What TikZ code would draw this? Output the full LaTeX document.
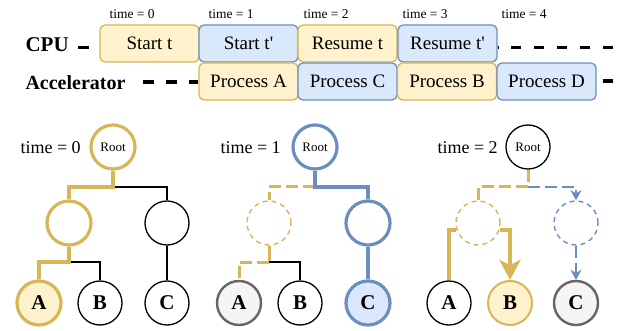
\documentclass[tikz,border=0pt]{standalone}
\usepackage{fontspec}
\setmainfont{Liberation Serif}
\usetikzlibrary{arrows.meta}
\definecolor{yFill}{HTML}{FFF2CC}
\definecolor{yLine}{HTML}{D6B656}
\definecolor{bFill}{HTML}{DAE8FC}
\definecolor{bLine}{HTML}{6C8EBF}
\definecolor{gFill}{HTML}{F5F5F5}
\definecolor{gLine}{HTML}{666666}
\begin{document}
\begin{tikzpicture}[x=1pt,y=-1pt]
		\tikzstyle{Slot} = [rectangle, rounded corners=5pt, minimum width=99pt, minimum height=37pt, line width=1.3pt, text centered, font=\fontsize{19}{20}\selectfont]
		\tikzstyle{YSlot} = [Slot, draw=yLine, fill=yFill]
		\tikzstyle{BSlot} = [Slot, draw=bLine, fill=bFill]
		\tikzstyle{Lane} = [line width=3.5pt, dash pattern=on 10.5pt off 12.5pt]
		\tikzstyle{Tick} = [anchor=west, font=\fontsize{13.5}{14}\selectfont]
		\tikzstyle{Step} = [anchor=west, font=\fontsize{18}{20}\selectfont]
		\tikzstyle{TNode} = [circle, minimum size=44pt, inner sep=0pt, draw=black, line width=1.3pt, fill=white]
		\tikzstyle{RootNode} = [TNode, font=\fontsize{13}{14}\selectfont]
		\tikzstyle{LeafNode} = [TNode, font=\fontsize{21}{22}\selectfont\bfseries]
		\tikzstyle{yHot} = [draw=yLine, line width=3.2pt]
		\tikzstyle{bHot} = [draw=bLine, line width=3.2pt]
		\tikzstyle{yGhost} = [draw=yLine, line width=1.4pt, dash pattern=on 5pt off 4pt]
		\tikzstyle{bGhost} = [draw=bLine, line width=1.4pt, dash pattern=on 5pt off 4pt]
		\tikzstyle{yPath} = [yLine, line width=4.5pt]
		\tikzstyle{bPath} = [bLine, line width=4.5pt]
		\tikzstyle{yDash} = [yLine, line width=3pt, dash pattern=on 12pt off 5pt]
		\tikzstyle{bDash} = [bLine, line width=2pt, dash pattern=on 12pt off 5pt]
		\tikzstyle{plain} = [black, line width=1.3pt]
		\tikzstyle{bArrow} = [-{Stealth[length=10pt, width=11pt, inset=3pt]}]
		\tikzstyle{yArrow} = [-{Stealth[length=20pt, width=21pt, inset=5pt]}]

		\useasboundingbox (0,0) rectangle (621,331);

		% timeline
		\node (cpuLabel) [anchor=west, font=\fontsize{21}{22}\selectfont\bfseries] at (22,45) {CPU};
		\node (accLabel) [anchor=west, font=\fontsize{20}{22}\selectfont\bfseries] at (22,83) {Accelerator};
		\coordinate (cpuIn) at (78,47.5);
		\coordinate (cpuOut) at (621,47.5);
		\coordinate (accIn) at (143,82);
		\coordinate (accOut) at (621,81);

		\node (startT) [YSlot] at (149.5,43.5) {Start t};
		\node (startT2) [BSlot] at (248.5,43.5) {Start t\textquotesingle};
		\node (resumeT) [YSlot] at (347.5,43.5) {Resume t};
		\node (resumeT2) [BSlot] at (447.5,43.5) {Resume t\textquotesingle};
		\node (procA) [YSlot] at (248.5,81.5) {Process A};
		\node (procC) [BSlot] at (347.5,81.5) {Process C};
		\node (procB) [YSlot] at (447,81.5) {Process B};
		\node (procD) [BSlot] at (546.5,81.5) {Process D};

		\draw [Lane] (cpuIn) -- (startT.west |- cpuIn);
		\draw [Lane, dash phase=10pt] (resumeT2.east |- cpuOut) -- (cpuOut);
		\draw [Lane] (accIn) -- (procA.west |- accIn);
		\draw [Lane, dash phase=17pt] (procD.east |- accOut) -- (accOut);

		\node (tick0) [Tick] at (106,14) {time = 0};
		\node (tick1) [Tick] at (205,14) {time = 1};
		\node (tick2) [Tick] at (300,14) {time = 2};
		\node (tick3) [Tick] at (399,14) {time = 3};
		\node (tick4) [Tick] at (498,14) {time = 4};

		% time = 0
		\node (step0) [Step] at (17,148) {time = 0};
		\node (root0) [RootNode, yHot] at (113,147) {Root};
		\node (left0) [TNode, yHot] at (69,223) {};
		\node (right0) [TNode] at (167,223) {};
		\node (a0) [LeafNode, yHot, fill=yFill] at (39,303) {A};
		\node (b0) [LeafNode] at (100,303) {B};
		\node (c0) [LeafNode] at (167,303) {C};
		\coordinate (fork0) at (113,187);
		\coordinate (split0) at (69,262);
		\draw [plain] (fork0) -| (right0.north);
		\draw [plain] (split0) -| (b0.north);
		\draw [plain] (right0) -- (c0);
		\draw [yPath] (root0.south) -- (fork0) -| (left0.north);
		\draw [yPath] (left0.south) -- (split0) -| (a0.north);

		% time = 1
		\node (step1) [Step] at (217,148) {time = 1};
		\node (root1) [RootNode, bHot] at (315,147) {Root};
		\node (left1) [TNode, yGhost] at (269,223) {};
		\node (right1) [TNode, bHot] at (368,223) {};
		\node (a1) [LeafNode, draw=gLine, line width=2.4pt, fill=gFill] at (239,303) {A};
		\node (b1) [LeafNode] at (300,303) {B};
		\node (c1) [LeafNode, bHot, fill=bFill] at (368,303) {C};
		\coordinate (fork1) at (315,187);
		\coordinate (split1) at (269,262);
		\draw [yDash] (fork1) -| (left1.north);
		\draw [yLine, line width=3pt] (left1.south) -- (split1);
		\draw [yDash] (split1) -| (a1.north);
		\draw [plain] (split1) -| (b1.north);
		\draw [bPath] (root1.south) -- (fork1) -| (right1.north);
		\draw [bPath] (right1) -- (c1);

		% time = 2
		\node (step2) [Step] at (434,148) {time = 2};
		\node (root2) [RootNode] at (528,147) {Root};
		\node (left2) [TNode, yGhost] at (478,223) {};
		\node (right2) [TNode, bGhost] at (576,223) {};
		\node (a2) [LeafNode] at (449,303) {A};
		\node (b2) [LeafNode, draw=yLine, line width=2pt, fill=yFill] at (510,303) {B};
		\node (c2) [LeafNode, draw=gLine, line width=2.4pt, fill=gFill] at (576,303) {C};
		\coordinate (fork2) at (528,187);
		\draw [yDash] (root2.south) -- (fork2) -| (left2.north);
		\draw [bDash, bArrow] (fork2) -| (right2.north);
		\draw [bDash, bArrow] (right2) -- (c2);
		\draw [yPath] (a2.north) |- (left2.198);
		\draw [yPath, yArrow] (left2.-18) -| (b2.north);
\end{tikzpicture}
\end{document}
